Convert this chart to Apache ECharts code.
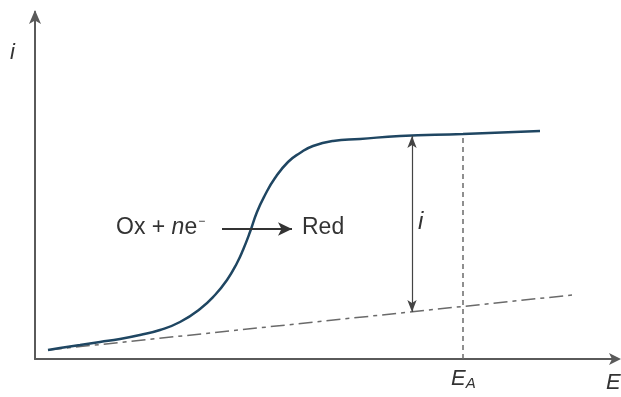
<!DOCTYPE html>
<html>
<head>
<meta charset="utf-8">
<script src="https://cdn.jsdelivr.net/npm/echarts@6/dist/echarts.min.js"></script>
<style>
  html, body { margin: 0; padding: 0; background: #fff; }
  #chart { width: 621px; height: 397px; }
</style>
</head>
<body>
<div id="chart"></div>
<script>
// curve (E, i) in arbitrary units
const curveE = [13, 25, 45, 65, 85, 105, 125, 145, 165, 180, 192, 202, 208, 215, 222, 230, 240, 253, 265, 278, 298, 325, 365, 428, 505];
const curveI = [9, 11, 14, 17, 20, 24, 29, 37, 50, 64, 79, 96, 109, 127, 147, 164, 181, 197, 206, 213, 218, 220, 223, 225, 228];

// residual (background) current, dashed straight line
const baseE = [13, 537];
const baseI = [9, 64];

// E_A position and the limiting-current arrow
const eA = 428;
const arrowE = 377;
const arrowFrom = 47;
const arrowTo = 223;

// reaction arrow between the text labels
const rxnFrom = [187, 130];
const rxnTo = [257, 130];

const chart = echarts.init(document.getElementById('chart'), null, { renderer: 'canvas' });

const axisColor = '#5a5a5a';
const curveColor = '#1f4662';
const font = 'Liberation Sans, Arial, sans-serif';

const option = {
    backgroundColor: '#fff',
    animation: false,
    grid: { left: 35, top: 12, width: 583, height: 347 },
    xAxis: {
        type: 'value', min: 0, max: 583,
        axisLine: { lineStyle: { color: axisColor, width: 2 }, symbol: ['none', 'arrow'], symbolSize: [9, 12], symbolOffset: [0, 3] },
        axisTick: { show: false }, axisLabel: { show: false }, splitLine: { show: false }
    },
    yAxis: {
        type: 'value', min: 0, max: 347,
        axisLine: { lineStyle: { color: axisColor, width: 2 }, symbol: ['none', 'arrow'], symbolSize: [9, 14], symbolOffset: [0, 2] },
        axisTick: { show: false }, axisLabel: { show: false }, splitLine: { show: false }
    },
    series: [
        {
            type: 'line',
            data: baseE.map((e, k) => [e, baseI[k]]),
            symbol: 'none',
            lineStyle: { color: '#6a6a6a', width: 1.5, type: [14, 5, 4, 5] },
            z: 2
        },
        {
            type: 'line',
            data: [[eA, 0], [eA, curveI[curveE.indexOf(eA)]]],
            symbol: 'none',
            lineStyle: { color: '#6a6a6a', width: 1.5, type: [5, 4] },
            z: 2
        },
        {
            type: 'line',
            data: curveE.map((e, k) => [e, curveI[k]]),
            symbol: 'none',
            smooth: 0.5,
            lineStyle: { color: curveColor, width: 2.5 },
            z: 3,
            markLine: {
                silent: true,
                label: { show: false },
                lineStyle: { color: '#444', width: 1.2, type: 'solid' },
                data: [
                    [
                        { coord: [arrowE, arrowFrom], symbol: 'arrow', symbolSize: [7, 12] },
                        { coord: [arrowE, arrowTo], symbol: 'arrow', symbolSize: [7, 12] }
                    ],
                    [
                        { coord: rxnFrom, symbol: 'none', lineStyle: { width: 2, color: '#333' } },
                        { coord: rxnTo, symbol: 'arrow', symbolSize: [10, 14], lineStyle: { width: 2, color: '#333' } }
                    ]
                ]
            }
        }
    ],
    graphic: [
        { type: 'text', left: 10, top: 42, style: { text: 'i', font: 'italic 22px ' + font, fill: '#333' } },
        { type: 'text', left: 418, top: 210, style: { text: 'i', font: 'italic 24px ' + font, fill: '#333' } },
        {
            type: 'text', left: 116, top: 216,
            style: {
                text: '{a|Ox + }{n|n}{a|e}{s|−}',
                rich: {
                    a: { font: '23px ' + font, fill: '#333' },
                    n: { font: 'italic 23px ' + font, fill: '#333' },
                    s: { font: '12px ' + font, fill: '#333', verticalAlign: 'top', padding: [0, 0, 12, 1] }
                }
            }
        },
        { type: 'text', left: 302, top: 216, style: { text: 'Red', font: '23px ' + font, fill: '#333' } },
        {
            type: 'text', left: 451, top: 368,
            style: {
                text: '{e|E}{a|A}',
                rich: {
                    e: { font: 'italic 22px ' + font, fill: '#333' },
                    a: { font: 'italic 15px ' + font, fill: '#333', padding: [10, 0, 0, 0] }
                }
            }
        },
        { type: 'text', left: 606, top: 372, style: { text: 'E', font: 'italic 22px ' + font, fill: '#333' } }
    ]
};

chart.setOption(option);
window.addEventListener('resize', () => chart.resize());
</script>
</body>
</html>
